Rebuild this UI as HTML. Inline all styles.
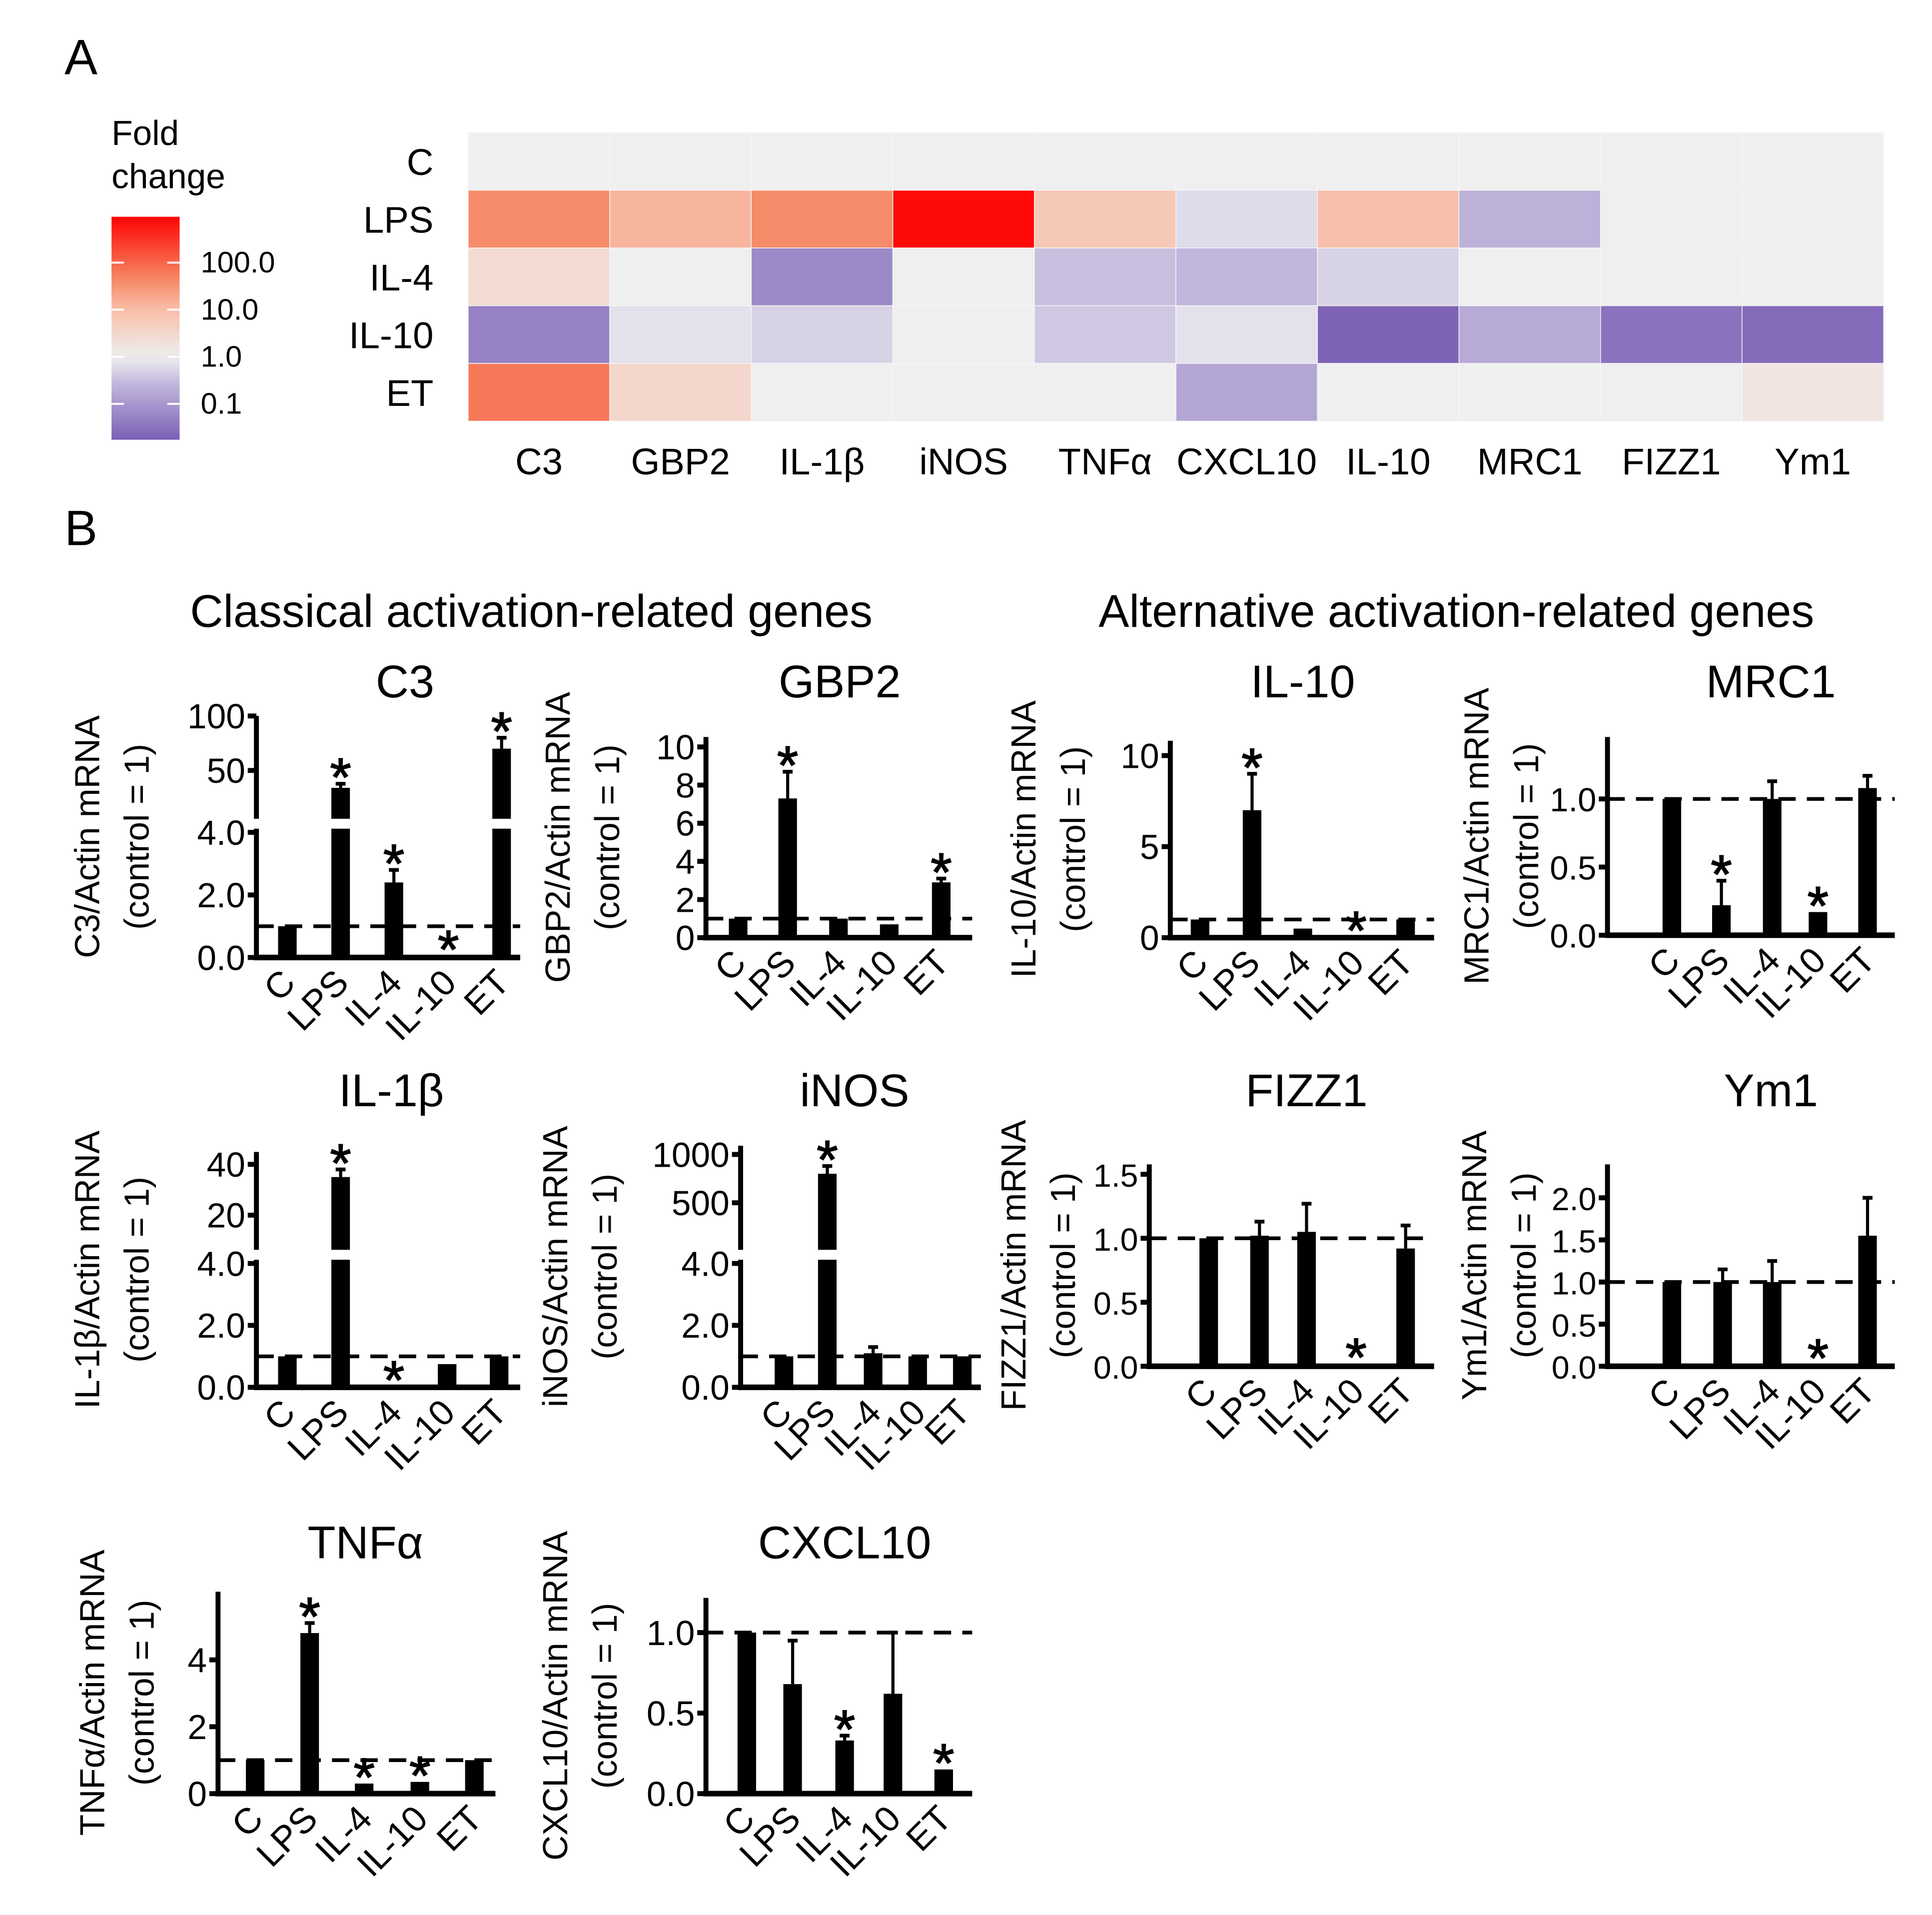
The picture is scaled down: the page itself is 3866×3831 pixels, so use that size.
<!DOCTYPE html>
<html><head><meta charset="utf-8"><style>
html,body{margin:0;padding:0;background:#fff;}
svg{display:block;font-family:"Liberation Sans",Arial,sans-serif;}
</style></head><body>
<svg id="fig" width="3866" height="3831" viewBox="0 0 1560 1546" xmlns="http://www.w3.org/2000/svg">
<text x="52" y="60" font-size="40">A</text>
<text x="52" y="440" font-size="40">B</text>
<text x="429" y="506" font-size="37" text-anchor="middle">Classical activation-related genes</text>
<text x="1176" y="506" font-size="37" text-anchor="middle">Alternative activation-related genes</text>
<g id="heat"></g>
<g id="bars"></g>
</svg>
<script>
// ---------- Heatmap data ----------
const heatGenes = ["C3","GBP2","IL-1β","iNOS","TNFα","CXCL10","IL-10","MRC1","FIZZ1","Ym1"];
const heatGroups = ["C","LPS","IL-4","IL-10","ET"];
// log10 fold change
const heatC   = [0,0,0,0,0,0,0,0,0,0];
const heatLPS = [1.6,1.1,1.6,2.9,0.8,-0.2,0.95,-0.65,0,0];
const heatIL4 = [0.4,0,-1.2,0,-0.5,-0.6,-0.3,0,0,0];
const heatIL10= [-1.3,-0.15,-0.3,0,-0.4,-0.15,-1.7,-0.75,-1.5,-1.6];
const heatET  = [1.8,0.5,0,0,0,-0.8,0,0,0,0.2];
const heatRows = [heatC,heatLPS,heatIL4,heatIL10,heatET];
const legendTicks = [100,10,1,0.1];
const legendLabels = ["100.0","10.0","1.0","0.1"];

const NS="http://www.w3.org/2000/svg";
function mk(tag,attrs,parent,txt){const e=document.createElementNS(NS,tag);for(const k in attrs)e.setAttribute(k,attrs[k]);if(txt!==undefined)e.textContent=txt;parent.appendChild(e);return e;}
const stops=[[-1.76,[123,95,181]],[-0.6,[192,181,219]],[0,[239,239,240]],[1,[248,190,168]],[1.7,[246,130,95]],[3,[255,0,0]]];
function col(v){v=Math.max(-1.76,Math.min(3,v));for(let i=0;i<stops.length-1;i++){const a=stops[i],b=stops[i+1];if(v<=b[0]){const t=(v-a[0])/(b[0]-a[0]);const c=a[1].map((x,j)=>Math.round(x+(b[1][j]-x)*t));return `rgb(${c})`;}}return "red";}

const heat=document.getElementById('heat');
const hx0=378,hx1=1521,hy0=107,hy1=340;
const cw=(hx1-hx0)/heatGenes.length, rh=(hy1-hy0)/heatGroups.length;
mk('rect',{x:hx0,y:hy0,width:hx1-hx0,height:hy1-hy0,fill:'#ebebeb'},heat);
heatRows.forEach((row,r)=>{
  row.forEach((v,c)=>{
    const e=mk('rect',{x:hx0+c*cw,y:hy0+r*rh,width:cw,height:rh,fill:col(v),stroke:'#f6f6f6','stroke-width':0.6},heat);
    
    
  });
  const t=mk('text',{x:350,y:hy0+r*rh+rh/2+11,'font-size':30,'text-anchor':'end'},heat,heatGroups[r]);
  
  
});
heatGenes.forEach((g,c)=>{
  const t=mk('text',{x:hx0+c*cw+cw/2,y:383,'font-size':30,'text-anchor':'middle'},heat,g);
  
  
});
// legend
const defs=mk('defs',{},heat);
const lg=mk('linearGradient',{id:'lg',x1:0,y1:1,x2:0,y2:0},defs);
const lgTop=175,lgBot=355,lgOne=288,dec=38;
for(let i=0;i<=20;i++){const v=-1.76+(i/20)*(1.76+2.97);mk('stop',{offset:(i/20),'stop-color':col(v)},lg);}
const lr=mk('rect',{x:90,y:lgTop,width:55,height:lgBot-lgTop,fill:'url(#lg)'},heat);


const lt1=mk('text',{x:90,y:117,'font-size':28},heat,'Fold');


mk('text',{x:90,y:152,'font-size':28},heat,'change');
legendTicks.forEach((v,i)=>{
  const y=lgOne-Math.log10(v)*dec;
  mk('line',{x1:90,x2:100,y1:y,y2:y,stroke:'#fff','stroke-width':1.5},heat);
  mk('line',{x1:135,x2:145,y1:y,y2:y,stroke:'#fff','stroke-width':1.5},heat);
  const t=mk('text',{x:162,y:y+8,'font-size':24},heat,legendLabels[i]);
  
  
});

// ---------- Bar chart data ----------
const groups = ["C","LPS","IL-4","IL-10","ET"];
const c3Vals=[1,33,2.4,0.05,70];   const c3Err=[1,37,2.8,0.05,80];   const c3Sig=[0,1,1,1,1];
const c3Ticks=[0,2,4,50,100];      const c3Lab=["0.0","2.0","4.0","50","100"];
const gbpVals=[1,7.3,1,0.7,2.9];   const gbpErr=[1,8.7,1,0.7,3.1];   const gbpSig=[0,1,0,0,1];
const gbpTicks=[0,2,4,6,8,10];     const gbpLab=["0","2","4","6","8","10"];
const il10Vals=[1,7,0.5,0.05,1];   const il10Err=[1,9,0.5,0.05,1];  const il10Sig=[0,1,0,1,0];
const il10Ticks=[0,5,10];          const il10Lab=["0","5","10"];
const mrcVals=[1,0.22,1,0.17,1.08];const mrcErr=[1,0.4,1.13,0.17,1.17];const mrcSig=[0,1,0,1,0];
const mrcTicks=[0,0.5,1];          const mrcLab=["0.0","0.5","1.0"];
const il1Vals=[1,35,0.03,0.75,1];  const il1Err=[1,38,0.03,0.75,1]; const il1Sig=[0,1,1,0,0];
const il1Ticks=[0,2,4,20,40];      const il1Lab=["0.0","2.0","4.0","20","40"];
const inosVals=[1,800,1.1,1,1];    const inosErr=[1,880,1.3,1,1];   const inosSig=[0,1,0,0,0];
const inosTicks=[0,2,4,500,1000];  const inosLab=["0.0","2.0","4.0","500","1000"];
const fizzVals=[1,1.02,1.05,0.02,0.92]; const fizzErr=[1,1.13,1.27,0.02,1.1]; const fizzSig=[0,0,0,1,0];
const fizzTicks=[0,0.5,1,1.5];     const fizzLab=["0.0","0.5","1.0","1.5"];
const ymVals=[1,1,1,0.02,1.55];    const ymErr=[1,1.15,1.25,0.02,2.0]; const ymSig=[0,0,0,1,0];
const ymTicks=[0,0.5,1,1.5,2];     const ymLab=["0.0","0.5","1.0","1.5","2.0"];
const tnfVals=[1,4.8,0.3,0.35,1];  const tnfErr=[1,5.1,0.3,0.35,1]; const tnfSig=[0,1,1,1,0];
const tnfTicks=[0,2,4];            const tnfLab=["0","2","4"];
const cxVals=[1,0.68,0.33,0.62,0.15]; const cxErr=[1,0.95,0.36,1.0,0.15]; const cxSig=[0,0,1,0,1];
const cxTicks=[0,0.5,1];           const cxLab=["0.0","0.5","1.0"];

// layout: seg = [domainLo, domainHi, pixLo, pixHi]
const charts=[
 {name:'c3',title:'C3',ylab:'C3/Actin mRNA',tx:327,ty:563,ax:207,top:578,bx:[232,275,318,362,405],endX:420,lx:80,fs:28,vals:c3Vals,err:c3Err,sig:c3Sig,ticks:c3Ticks,lab:c3Lab,
  segs:[[0,4,773,672],[4,50,660,622],[50,100,622,578]],brk:[660,672]},
 {name:'gbp2',title:'GBP2',ylab:'GBP2/Actin mRNA',tx:678,ty:563,ax:570,top:595,bx:[596,636,677,718,760],endX:785,lx:460,fs:28,vals:gbpVals,err:gbpErr,sig:gbpSig,ticks:gbpTicks,lab:gbpLab,
  segs:[[0,10,757,603]]},
 {name:'il10',title:'IL-10',ylab:'IL-10/Actin mRNA',tx:1052,ty:563,ax:945,top:598,bx:[969,1011,1052,1095,1135],endX:1158,lx:836,fs:28,vals:il10Vals,err:il10Err,sig:il10Sig,ticks:il10Ticks,lab:il10Lab,
  segs:[[0,10,757,610]]},
 {name:'mrc1',title:'MRC1',ylab:'MRC1/Actin mRNA',tx:1430,ty:563,ax:1298,top:595,bx:[1350,1390,1431,1468,1508],endX:1530,lx:1202,fs:27,vals:mrcVals,err:mrcErr,sig:mrcSig,ticks:mrcTicks,lab:mrcLab,
  segs:[[0,1,755,645]]},
 {name:'il1b',title:'IL-1β',ylab:'IL-1β/Actin mRNA',tx:316,ty:893,ax:207,top:930,bx:[232,275,318,361,403],endX:420,lx:80,fs:28,vals:il1Vals,err:il1Err,sig:il1Sig,ticks:il1Ticks,lab:il1Lab,
  segs:[[0,4,1120,1020],[4,20,1008,981],[20,40,981,940]],brk:[1008,1020]},
 {name:'inos',title:'iNOS',ylab:'iNOS/Actin mRNA',tx:690,ty:893,ax:598,top:925,bx:[633,668,705,741,777],endX:792,lx:458,fs:28,vals:inosVals,err:inosErr,sig:inosSig,ticks:inosTicks,lab:inosLab,
  segs:[[0,4,1120,1020],[4,500,1008,971],[500,1000,971,932]],brk:[1008,1020]},
 {name:'fizz1',title:'FIZZ1',ylab:'FIZZ1/Actin mRNA',tx:1055,ty:893,ax:928,top:940,bx:[976,1017,1055,1095,1135],endX:1158,lx:828,fs:26,vals:fizzVals,err:fizzErr,sig:fizzSig,ticks:fizzTicks,lab:fizzLab,
  segs:[[0,1.5,1103,948]]},
 {name:'ym1',title:'Ym1',ylab:'Ym1/Actin mRNA',tx:1430,ty:893,ax:1298,top:940,bx:[1350,1391,1431,1468,1508],endX:1530,lx:1200,fs:26,vals:ymVals,err:ymErr,sig:ymSig,ticks:ymTicks,lab:ymLab,
  segs:[[0,2,1103,967]]},
 {name:'tnfa',title:'TNFα',ylab:'TNFα/Actin mRNA',tx:295,ty:1258,ax:176,top:1285,bx:[206,250,294,339,383],endX:400,lx:84,fs:28,vals:tnfVals,err:tnfErr,sig:tnfSig,ticks:tnfTicks,lab:tnfLab,
  segs:[[0,4,1448,1340]]},
 {name:'cxcl10',title:'CXCL10',ylab:'CXCL10/Actin mRNA',tx:682,ty:1258,ax:570,top:1290,bx:[603,640,682,721,762],endX:785,lx:458,fs:28,vals:cxVals,err:cxErr,sig:cxSig,ticks:cxTicks,lab:cxLab,
  segs:[[0,1,1448,1318]]}
];

const bars=document.getElementById('bars');
function makeScale(segs){return v=>{for(const s of segs){if(v<=s[1]||s===segs[segs.length-1]){return s[2]+(v-s[0])/(s[1]-s[0])*(s[3]-s[2]);}}};}

charts.forEach(ch=>{
  const g=mk('g',{},bars);
  
  
  const y=makeScale(ch.segs);
  const base=y(0);
  const bw=15;
  const tt=mk('text',{x:ch.tx,y:ch.ty,'font-size':37,'text-anchor':'middle'},g,ch.title);
  
  
  const my=(ch.top+base)/2;
  const yl=mk('text',{x:ch.lx,y:my,'font-size':28,'text-anchor':'middle',transform:`rotate(-90 ${ch.lx} ${my})`},g,ch.ylab);
  
  
  const yl2=mk('text',{x:ch.lx+40,y:my,'font-size':28,'text-anchor':'middle',transform:`rotate(-90 ${ch.lx+40} ${my})`},g,'(control = 1)');
  
  
  // bars
  ch.vals.forEach((v,i)=>{
    const x=ch.bx[i];
    const top=y(v), et=y(ch.err[i]);
    if(ch.err[i]>v){
      const eb=mk('line',{x1:x,x2:x,y1:et,y2:top,stroke:'#000','stroke-width':2.5},g);
      
      
      mk('line',{x1:x-4,x2:x+4,y1:et,y2:et,stroke:'#000','stroke-width':3},g);
    }
    const r=mk('rect',{x:x-bw/2,y:top,width:bw,height:Math.max(0.5,base-top),fill:'#000'},g);
    
    
    if(ch.sig[i]){
      const s=mk('text',{x:x,y:Math.min(et,top)+10,'font-size':44,'text-anchor':'middle',stroke:'#000','stroke-width':0.8},g,'*');
      
      
    }
    const lx=x+8, ly=base+22;
    const xl=mk('text',{x:lx,y:ly,'font-size':29,'text-anchor':'end',transform:`rotate(-45 ${lx} ${ly})`},g,groups[i]);
    
    
  });
  // axis
  mk('line',{x1:ch.ax,x2:ch.ax,y1:ch.top,y2:base+2,stroke:'#000','stroke-width':4},g);
  mk('line',{x1:ch.ax-2,x2:ch.endX,y1:base,y2:base,stroke:'#000','stroke-width':4.5},g);
  ch.ticks.forEach((t,i)=>{
    const ty=y(t);
    mk('line',{x1:ch.ax-7,x2:ch.ax,y1:ty,y2:ty,stroke:'#000','stroke-width':4},g);
    const tl=mk('text',{x:ch.ax-9,y:ty+10,'font-size':ch.fs,'text-anchor':'end'},g,ch.lab[i]);
    
    
  });
  if(ch.brk){
    const br=mk('rect',{x:ch.ax-8,y:ch.brk[0]+1,width:ch.endX-ch.ax+8,height:ch.brk[1]-ch.brk[0]-4,fill:'#fff'},g);
    
    
  }
  const dy=y(1);
  const d=mk('line',{x1:ch.ax,x2:ch.endX,y1:dy,y2:dy,stroke:'#000','stroke-width':3,'stroke-dasharray':'14 9'},g);
  
  
});
</script>
</body></html>
